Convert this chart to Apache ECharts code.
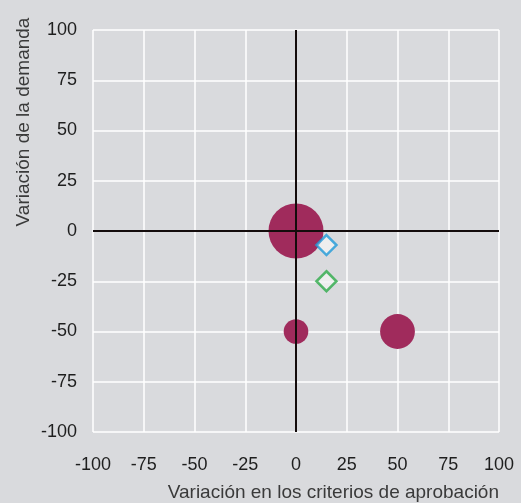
<!DOCTYPE html>
<html>
<head>
<meta charset="utf-8">
<script src="https://cdn.jsdelivr.net/npm/echarts@6/dist/echarts.min.js"></script>
<style>
  html, body { margin: 0; padding: 0; background: #d9dadd; }
  #chart { width: 521px; height: 503px; }
</style>
</head>
<body>
<div id="chart"></div>
<script>
// Axis ticks (shared by both axes)
const axisTicks = [-100, -75, -50, -25, 0, 25, 50, 75, 100];

// Bubbles: [approval-criteria change, demand change, weight]
const bubbleX = [0, 0, 50];
const bubbleY = [0, -50, -50];
const bubbleWeight = [5, 1, 2];

// Diamond markers
const blueDiamond = [15, -7];
const greenDiamond = [15, -25];

const xName = 'Variación en los criterios de aprobación';
const yName = 'Variación de la demanda';

const bubbleData = bubbleX.map((x, i) => [x, bubbleY[i], bubbleWeight[i]]);

const font = 'Liberation Sans, Arial, sans-serif';

const chart = echarts.init(document.getElementById('chart'));

const valueAxis = (extra) => Object.assign({
  type: 'value',
  min: axisTicks[0],
  max: axisTicks[axisTicks.length - 1],
  interval: axisTicks[1] - axisTicks[0],
  axisLine: { show: false },
  axisTick: { show: false },
  splitLine: { show: true, lineStyle: { color: '#ffffff', width: 1.5 } },
  axisLabel: { color: '#1e1e1e', fontSize: 18, fontFamily: font }
}, extra);

chart.setOption({
  backgroundColor: '#d9dadd',
  animation: false,
  grid: { left: 93, right: 22, top: 30, bottom: 71, containLabel: false },
  xAxis: valueAxis({ axisLabel: { color: '#1e1e1e', fontSize: 18, fontFamily: font, margin: 24 } }),
  yAxis: valueAxis({ axisLabel: { color: '#1e1e1e', fontSize: 18, fontFamily: font, margin: 16 } }),
  graphic: [
    {
      type: 'text',
      right: 22,
      top: 483,
      style: { text: xName, fill: '#3a3a3a', fontSize: 19, fontFamily: font }
    },
    {
      type: 'text',
      x: 24,
      y: 122,
      rotation: Math.PI / 2,
      style: {
        text: yName, fill: '#3a3a3a', fontSize: 19, fontFamily: font,
        align: 'center', verticalAlign: 'middle'
      }
    }
  ],
  series: [
    {
      type: 'scatter',
      data: bubbleData,
      symbol: 'circle',
      symbolSize: (v) => 2 * 12.3 * Math.sqrt(v[2]),
      itemStyle: { color: '#a02b5c', opacity: 1 },
      z: 3,
      markLine: {
        silent: true,
        symbol: 'none',
        label: { show: false },
        lineStyle: { color: '#140c0c', width: 2, type: 'solid' },
        data: [{ xAxis: 0 }, { yAxis: 0 }],
        z: 4
      }
    },
    {
      type: 'scatter',
      data: [blueDiamond],
      symbol: 'diamond',
      symbolSize: 20,
      itemStyle: { color: '#f2f2f2', borderColor: '#1f9ad8', borderWidth: 2.5 },
      z: 5
    },
    {
      type: 'scatter',
      data: [greenDiamond],
      symbol: 'diamond',
      symbolSize: 20,
      itemStyle: { color: '#f2f2f2', borderColor: '#2daa48', borderWidth: 2.5 },
      z: 5
    }
  ]
});
</script>
</body>
</html>
